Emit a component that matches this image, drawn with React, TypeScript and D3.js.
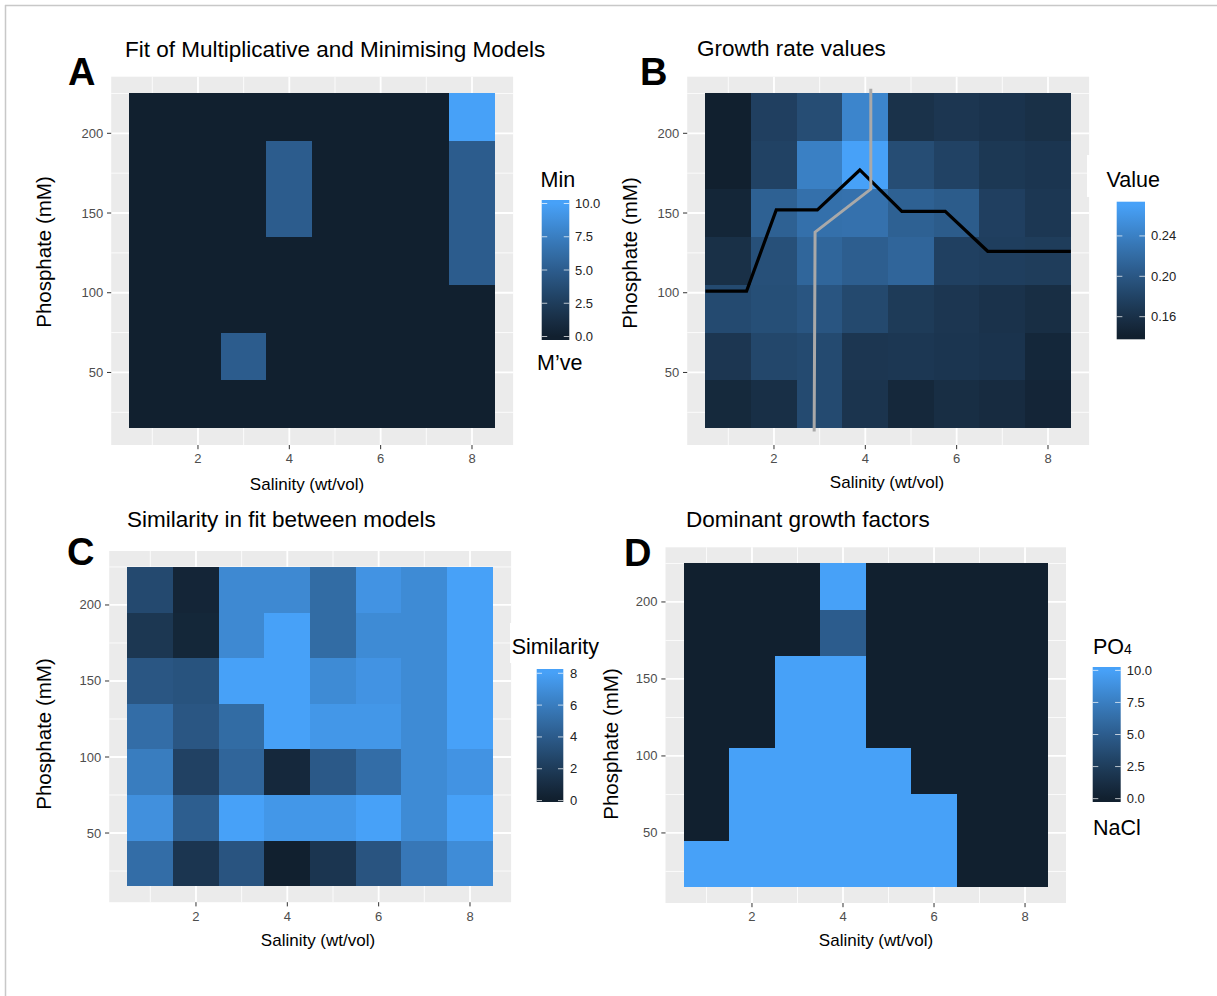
import React from 'react';
import * as d3 from 'd3';

// grid of the experiment
const salinity = [1, 2, 3, 4, 5, 6, 7, 8];
// rows from top (210 mM) to bottom (30 mM)
const phosphate = [210, 180, 150, 120, 90, 60, 30];

// A: fit of multiplicative (0) vs minimising (10) model
const fitValues = [
  [0, 0, 0, 0, 0, 0, 0, 10],
  [0, 0, 0, 5, 0, 0, 0, 5],
  [0, 0, 0, 5, 0, 0, 0, 5],
  [0, 0, 0, 0, 0, 0, 0, 5],
  [0, 0, 0, 0, 0, 0, 0, 0],
  [0, 0, 5, 0, 0, 0, 0, 0],
  [0, 0, 0, 0, 0, 0, 0, 0],
];

// B: growth rate values
const growthValues = [
  [0.141, 0.176, 0.19, 0.245, 0.161, 0.166, 0.163, 0.159],
  [0.141, 0.179, 0.24, 0.2705, 0.19, 0.179, 0.168, 0.165],
  [0.148, 0.21, 0.225, 0.226, 0.21, 0.205, 0.176, 0.167],
  [0.159, 0.193, 0.215, 0.207, 0.214, 0.177, 0.175, 0.173],
  [0.187, 0.192, 0.198, 0.186, 0.171, 0.166, 0.162, 0.157],
  [0.166, 0.184, 0.187, 0.166, 0.167, 0.165, 0.163, 0.149],
  [0.151, 0.158, 0.187, 0.164, 0.15, 0.157, 0.154, 0.147],
];

// C: similarity in fit between models
const similarityValues = [
  [2.9, 0.5, 6.7, 6.7, 5.0, 7.3, 6.8, 8.06],
  [1.7, 0.6, 6.7, 8.06, 5.0, 6.8, 6.8, 8.06],
  [3.7, 3.5, 8.06, 8.06, 6.8, 7.3, 6.8, 8.06],
  [5.1, 3.7, 5.0, 8.06, 7.5, 7.5, 6.8, 8.06],
  [6.0, 2.4, 4.6, 0.7, 3.9, 5.1, 6.8, 7.3],
  [7.1, 4.2, 8.06, 7.5, 7.5, 8.06, 6.8, 8.06],
  [5.1, 1.6, 3.6, 0.12, 1.6, 3.6, 5.7, 6.9],
];

// D: dominant growth factor, NaCl (0) vs PO4 (10)
const dominantValues = [
  [0, 0, 0, 10, 0, 0, 0, 0],
  [0, 0, 0, 5, 0, 0, 0, 0],
  [0, 0, 10, 10, 0, 0, 0, 0],
  [0, 0, 10, 10, 0, 0, 0, 0],
  [0, 10, 10, 10, 10, 0, 0, 0],
  [0, 10, 10, 10, 10, 10, 0, 0],
  [10, 10, 10, 10, 10, 10, 0, 0],
];

// lines drawn over panel B
const blackLineSalinity = [0.5, 1.4, 2.05, 2.95, 3.88, 4.8, 5.75, 6.68, 8.5];
const blackLinePhosphate = [101, 101, 152, 152, 177, 151, 151, 126, 126];
const greyLineSalinity = [4.12, 4.12, 2.9, 2.88];
const greyLinePhosphate = [228, 165, 138, 13];

const xTicks = [2, 4, 6, 8];
const yTicks = [50, 100, 150, 200];
const xMinor = [1, 3, 5, 7];
const yMinor = [25, 75, 125, 175, 225];

const fitBreaks = [0, 2.5, 5, 7.5, 10];
const growthBreaks = [0.16, 0.2, 0.24];
const similarityBreaks = [0, 2, 4, 6, 8];
const dominantBreaks = [0, 2.5, 5, 7.5, 10];

const font = "'Liberation Sans', Arial, Helvetica, sans-serif";
const ramp = d3.interpolateLab('#11202f', '#47a1f8');

const panels = [
  {
    id: 'A', letter: [68, 85], title: 'Fit of Multiplicative and Minimising Models', titlePos: [125, 57],
    px: [111.2, 513.1], py: [76.7, 445], values: fitValues, breaks: fitBreaks, fmt: d3.format('.1f'),
    yLabel: [51, 252], xLabel: [307, 490],
    legTitle: 'Min', legTitlePos: [540.5, 187.3], bar: { x: 541.7, y: 200, w: 27.6, h: 140 }, labelX: 575,
    bottom: "M\u2019ve", bottomPos: [537, 370],
  },
  {
    id: 'B', letter: [640, 85], title: 'Growth rate values', titlePos: [697, 56],
    px: [687.2, 1089.1], py: [76.7, 445], values: growthValues, breaks: growthBreaks, fmt: d3.format('.2f'),
    yLabel: [637, 253], xLabel: [887, 488],
    legTitle: 'Value', legTitlePos: [1106.5, 186.7], bar: { x: 1116.7, y: 201.7, w: 28.3, h: 137.6 }, labelX: 1151,
    cover: { x: 1087, y: 155, w: 125, h: 42 },
  },
  {
    id: 'C', letter: [67, 565], title: 'Similarity in fit between models', titlePos: [127, 527],
    px: [109.2, 511.1], py: [551, 902.2], values: similarityValues, breaks: similarityBreaks, fmt: d3.format('d'),
    yLabel: [51, 734], xLabel: [318, 946],
    legTitle: 'Similarity', legTitlePos: [511.7, 654], bar: { x: 536.7, y: 669, w: 26.6, h: 133 }, labelX: 570,
    cover: { x: 510, y: 623, w: 95, h: 40 },
  },
  {
    id: 'D', letter: [624, 566], title: 'Dominant growth factors', titlePos: [686, 527],
    px: [665.5, 1066], py: [547.3, 903], values: dominantValues, breaks: dominantBreaks, fmt: d3.format('.1f'),
    yLabel: [618, 744], xLabel: [876, 946],
    legTitle: 'PO', legSub: '4', legTitlePos: [1093, 654], bar: { x: 1092.7, y: 667, w: 28, h: 135 }, labelX: 1126.7,
    bottom: 'NaCl', bottomPos: [1093, 835],
  },
];

function Panel({ p }: { p: any }) {
  const xPad = (d3.max(salinity)! - d3.min(salinity)! + 1) * 0.05;
  const yPad = (d3.max(phosphate)! - d3.min(phosphate)! + 30) * 0.05;
  const x = d3.scaleLinear()
    .domain([d3.min(salinity)! - 0.5 - xPad, d3.max(salinity)! + 0.5 + xPad])
    .range(p.px);
  const y = d3.scaleLinear()
    .domain([d3.min(phosphate)! - 15 - yPad, d3.max(phosphate)! + 15 + yPad])
    .range([p.py[1], p.py[0]]);
  const flat: number[] = p.values.flat();
  const ext = d3.extent(flat) as [number, number];
  const color = (v: number) => ramp((v - ext[0]) / (ext[1] - ext[0]));

  const [x0, x1] = p.px;
  const [y0, y1] = p.py;

  // colour bar: limits sit half a bin inside the bar
  const b = p.bar;
  const inset = b.h / 40;
  const barScale = d3.scaleLinear().domain(ext).range([b.y + b.h - inset, b.y + inset]);
  const gid = 'grad' + p.id;
  const stops = d3.range(0, 11).map(i => i / 10);

  const line = d3.line<[number, number]>().x(d => x(d[0])).y(d => y(d[1]));

  return (
    <g>
      <text x={p.letter[0]} y={p.letter[1]} fontSize={38} fontWeight="bold">{p.id}</text>
      <text x={p.titlePos[0]} y={p.titlePos[1]} fontSize={22.5}>{p.title}</text>

      <rect x={x0} y={y0} width={x1 - x0} height={y1 - y0} fill="#ebebeb" />
      {xMinor.map(t => <line key={'xm' + t} x1={x(t)} x2={x(t)} y1={y0} y2={y1} stroke="#fff" strokeWidth={0.8} />)}
      {yMinor.map(t => <line key={'ym' + t} x1={x0} x2={x1} y1={y(t)} y2={y(t)} stroke="#fff" strokeWidth={0.8} />)}
      {xTicks.map(t => <line key={'xM' + t} x1={x(t)} x2={x(t)} y1={y0} y2={y1} stroke="#fff" strokeWidth={1.8} />)}
      {yTicks.map(t => <line key={'yM' + t} x1={x0} x2={x1} y1={y(t)} y2={y(t)} stroke="#fff" strokeWidth={1.8} />)}

      <g shapeRendering="crispEdges">
        {p.values.map((row: number[], ri: number) => row.map((v, ci) => {
          const s = salinity[ci];
          const ph = phosphate[ri];
          return (
            <rect key={ri + '-' + ci} x={x(s - 0.5)} y={y(ph + 15)}
              width={x(s + 0.5) - x(s - 0.5)} height={y(ph - 15) - y(ph + 15)}
              fill={color(v)} />
          );
        }))}
      </g>

      {p.id === 'B' && (
        <g fill="none" strokeLinejoin="miter">
          <path d={line(blackLineSalinity.map((s, i) => [s, blackLinePhosphate[i]]))!} stroke="#000" strokeWidth={3.2} />
          <path d={line(greyLineSalinity.map((s, i) => [s, greyLinePhosphate[i]]))!} stroke="#a9a9a9" strokeWidth={3} />
        </g>
      )}

      {/* axes */}
      {yTicks.map(t => (
        <g key={'yt' + t}>
          <line x1={x0 - 4.2} x2={x0} y1={y(t)} y2={y(t)} stroke="#333" strokeWidth={1} />
          <text x={x0 - 8} y={y(t) + 4.5} fontSize={13} fill="#4d4d4d" textAnchor="end">{t}</text>
        </g>
      ))}
      {xTicks.map(t => (
        <g key={'xt' + t}>
          <line x1={x(t)} x2={x(t)} y1={y1} y2={y1 + 4.2} stroke="#333" strokeWidth={1} />
          <text x={x(t)} y={y1 + 18.3} fontSize={13} fill="#4d4d4d" textAnchor="middle">{t}</text>
        </g>
      ))}
      <text x={p.xLabel[0]} y={p.xLabel[1]} fontSize={17} textAnchor="middle">Salinity (wt/vol)</text>
      <text transform={`translate(${p.yLabel[0]},${p.yLabel[1]}) rotate(-90)`} fontSize={20.5} textAnchor="middle">Phosphate (mM)</text>

      {/* legend */}
      {p.cover && <rect x={p.cover.x} y={p.cover.y} width={p.cover.w} height={p.cover.h} fill="#fff" />}
      <text x={p.legTitlePos[0]} y={p.legTitlePos[1]} fontSize={21.5}>
        {p.legTitle}
        {p.legSub && <tspan fontSize={14}>{p.legSub}</tspan>}
      </text>
      <defs>
        <linearGradient id={gid} x1="0" y1={b.y + b.h} x2="0" y2={b.y} gradientUnits="userSpaceOnUse">
          {stops.map(t => (
            <stop key={t} offset={(b.y + b.h - barScale(ext[0] + t * (ext[1] - ext[0]))) / b.h} stopColor={ramp(t)} />
          ))}
        </linearGradient>
      </defs>
      <rect x={b.x} y={b.y} width={b.w} height={b.h} fill={`url(#${gid})`} />
      {p.breaks.map((v: number) => (
        <g key={'lb' + v}>
          <line x1={b.x} x2={b.x + b.w / 5} y1={barScale(v)} y2={barScale(v)} stroke="#fff" strokeOpacity={0.7} />
          <line x1={b.x + (4 * b.w) / 5} x2={b.x + b.w} y1={barScale(v)} y2={barScale(v)} stroke="#fff" strokeOpacity={0.7} />
          <text x={p.labelX} y={barScale(v) + 4.5} fontSize={13} fill="#222">{p.fmt(v)}</text>
        </g>
      ))}
      {p.bottom && <text x={p.bottomPos[0]} y={p.bottomPos[1]} fontSize={21.5}>{p.bottom}</text>}
    </g>
  );
}

export default function App() {
  return (
    <svg width={1217} height={996} style={{ position: 'absolute', left: 0, top: 0, background: '#fff' }}
      fontFamily={font}>
      <rect x={0} y={0} width={1217} height={996} fill="#fff" />
      <line x1={5} x2={1217} y1={5.5} y2={5.5} stroke="#c8c8c8" strokeWidth={1.5} />
      <line x1={5.5} x2={5.5} y1={5} y2={996} stroke="#c8c8c8" strokeWidth={1.5} />
      {panels.map(p => <Panel key={p.id} p={p} />)}
    </svg>
  );
}
